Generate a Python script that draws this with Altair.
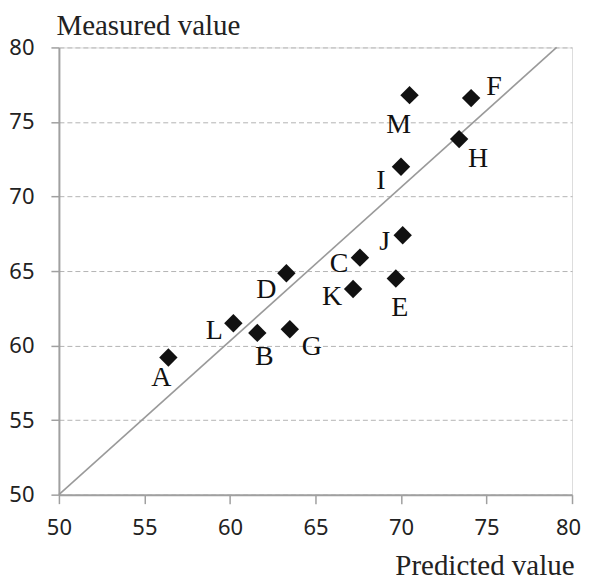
import altair as alt
import pandas as pd

labels = ["A", "B", "C", "D", "E", "F", "G", "H", "I", "J", "K", "L", "M"]
predicted = [56.4, 61.6, 67.6, 63.3, 69.7, 74.1, 63.5, 73.4, 70.0, 70.1, 67.2, 60.2, 70.5]
measured = [59.2, 60.85, 65.9, 64.85, 64.5, 76.6, 61.1, 73.85, 72.0, 67.4, 63.8, 61.5, 76.8]

line_x = [50, 79.1]
line_y = [50, 80]

tick_values = [50, 55, 60, 65, 70, 75, 80]

# label offsets in pixels (style)
offsets = {
    "A": (-7, 21), "B": (7, 24), "C": (-21, 6), "D": (-20, 17), "E": (4, 30),
    "F": (23, -11), "G": (22, 18), "H": (19, 20), "I": (-20, 14), "J": (-18, 7),
    "K": (-21, 8), "L": (-19, 8), "M": (-11, 30),
}

pts = pd.DataFrame({"label": labels, "predicted": predicted, "measured": measured})
ln = pd.DataFrame({"predicted": line_x, "measured": line_y})

xs = alt.Scale(domain=[50, 80], nice=False, zero=False)
ys = alt.Scale(domain=[50, 80], nice=False, zero=False)

x_axis = alt.Axis(
    values=tick_values, grid=False, domainColor="#a0a0a0", domainWidth=2,
    tickColor="#a0a0a0", tickWidth=1.5, tickSize=9, labelPadding=14,
    labelFlush=False, labelOverlap=False,
    labelOffset={"condition": {"test": "datum.value == 80", "value": -4}, "value": 0},
    labelFont="Noto Sans", labelFontSize=22, labelColor="#222222",
    title="Predicted value", titleFont="Liberation Serif", titleFontSize=29,
    titleFontWeight="normal", titleColor="#222222", titleAlign="right",
    titleBaseline="alphabetic", titleX=516, titleY=80,
)
y_axis = alt.Axis(
    values=tick_values, grid=True, gridColor="#b4b4b4", gridDash=[5, 3], gridWidth=1,
    domainColor="#a0a0a0", domainWidth=2, tickColor="#a0a0a0", tickWidth=1.5,
    tickSize=8, labelPadding=17, labelFlush=False, labelOverlap=False,
    labelFont="Noto Sans", labelFontSize=22, labelColor="#222222",
    title="Measured value", titleFont="Liberation Serif", titleFontSize=29,
    titleFontWeight="normal", titleColor="#222222", titleAngle=0, titleAlign="left",
    titleBaseline="alphabetic", titleX=-3, titleY=-13,
)

line = alt.Chart(ln).mark_line(color="#9a9a9a", strokeWidth=1.6).encode(
    x=alt.X("predicted:Q", scale=xs, axis=x_axis),
    y=alt.Y("measured:Q", scale=ys, axis=y_axis),
)

points = alt.Chart(pts).mark_point(
    shape="diamond", filled=True, color="#111111", size=340, opacity=1
).encode(
    x=alt.X("predicted:Q", scale=xs),
    y=alt.Y("measured:Q", scale=ys),
)

texts = []
for lab in labels:
    dx, dy = offsets[lab]
    texts.append(
        alt.Chart(pts).transform_filter(alt.datum.label == lab).mark_text(
            font="Liberation Serif", fontSize=28, color="#111111",
            align="center", baseline="middle", dx=dx, dy=dy,
        ).encode(
            x=alt.X("predicted:Q", scale=xs),
            y=alt.Y("measured:Q", scale=ys),
            text="label:N",
        )
    )

chart = alt.layer(line, points, *texts).properties(
    width=514, height=448,
    autosize=alt.AutoSizeParams(type="none"),
    padding={"left": 51, "top": 39, "right": 10, "bottom": 88},
).configure_view(stroke=None).configure(background="white")

chart.save("out.html", embed_options={"renderer": "svg", "actions": False})
